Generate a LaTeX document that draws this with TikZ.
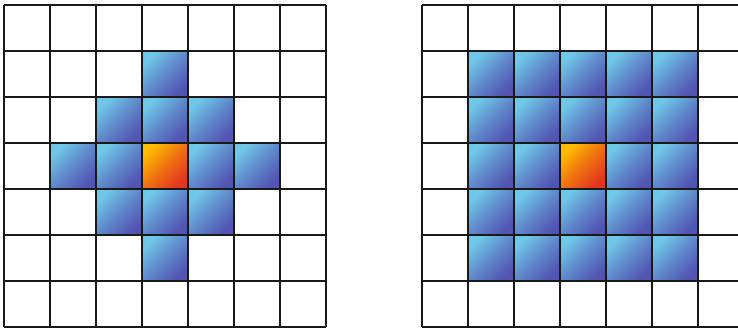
\documentclass[tikz,border=0pt]{standalone}
\definecolor{blueL}{RGB}{112,200,232}
\definecolor{blueD}{RGB}{82,84,178}
\definecolor{oraL}{RGB}{255,188,0}
\definecolor{oraD}{RGB}{226,52,32}
\definecolor{gridc}{RGB}{25,25,25}
\tikzset{
  bluecell/.style={top color=blueL,bottom color=blueD,middle color=blueD!55!blueL,shading angle=45},
  oracell/.style={top color=oraL,bottom color=oraD,middle color=oraD!55!oraL,shading angle=45},
  gridline/.style={draw=gridc,line width=1.5pt}
}
\begin{document}
\begin{tikzpicture}[x=1pt,y=1pt]
\useasboundingbox (0,0) rectangle (738,328);
\def\cs{46}
\def\xr{422}
% left diamond
\foreach \c/\r in {3/1, 2/2,3/2,4/2, 1/3,2/3,4/3,5/3, 2/4,3/4,4/4, 3/5}{
  \shade[bluecell] ({4+\cs*\c},{328-5-\cs*\r}) rectangle ++(\cs,-\cs);
}
\shade[oracell] ({4+\cs*3},{328-5-\cs*3}) rectangle ++(\cs,-\cs);
% right square
\foreach \c in {1,...,5}{
  \foreach \r in {1,...,5}{
    \shade[bluecell] ({\xr+\cs*\c},{328-5-\cs*\r}) rectangle ++(\cs,-\cs);
  }
}
\shade[oracell] ({\xr+\cs*3},{328-5-\cs*3}) rectangle ++(\cs,-\cs);
% grid lines
\foreach \k in {0,...,7}{
  \draw[gridline] ({4+\cs*\k},{328-5}) -- ++(0,-322);
  \draw[gridline] (4,{328-5-\cs*\k}) -- ++(322,0);
  \draw[gridline] ({\xr+\cs*\k},{328-5}) -- ++(0,-322);
  \draw[gridline] (\xr,{328-5-\cs*\k}) -- ++(322,0);
}
\end{tikzpicture}
\end{document}
